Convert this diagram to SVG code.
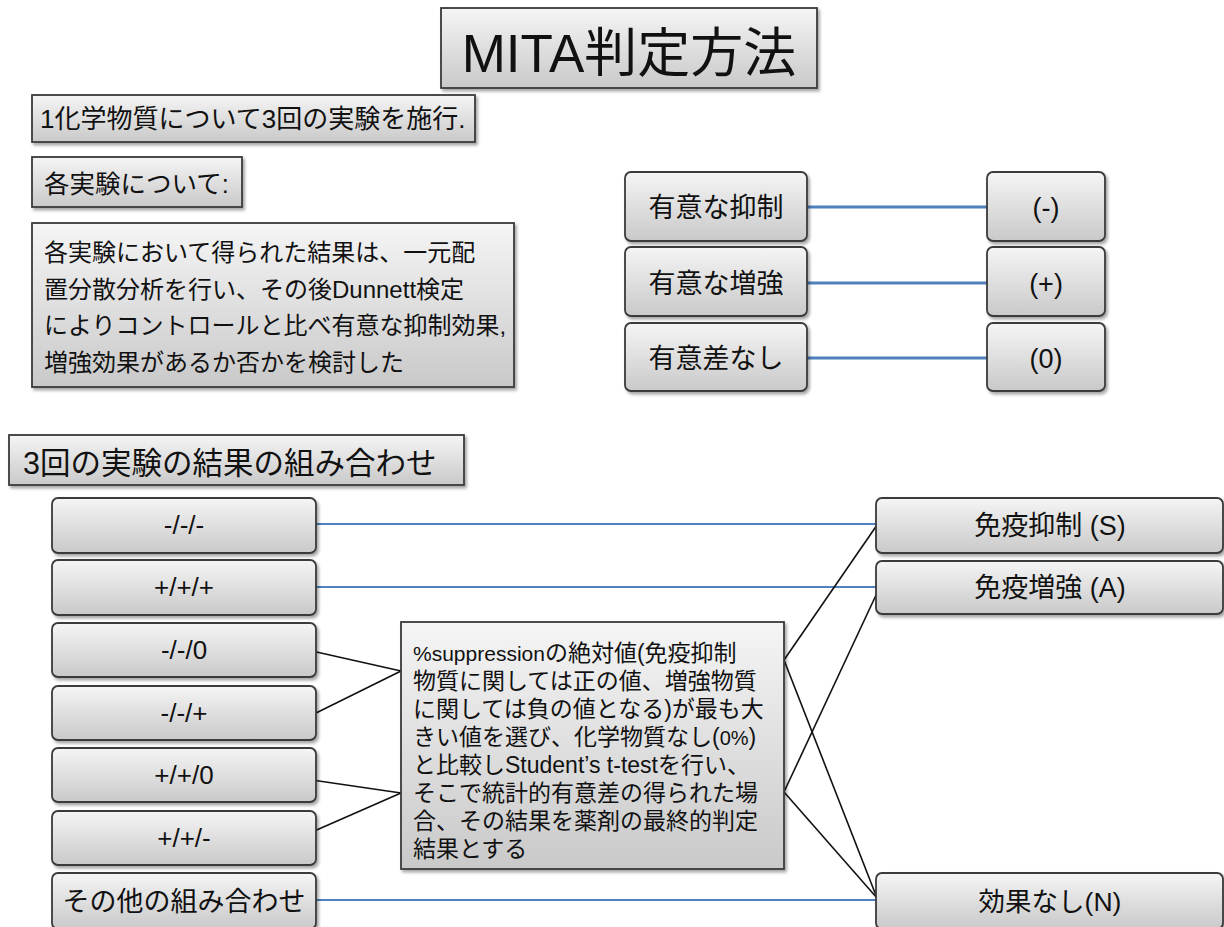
<svg xmlns="http://www.w3.org/2000/svg" width="1224" height="927" viewBox="0 0 1224 927">
<defs>
  <linearGradient id="g" x1="0" y1="0" x2="0" y2="1">
    <stop offset="0" stop-color="#f5f5f5"/>
    <stop offset="1" stop-color="#c9c9c9"/>
  </linearGradient>
  <filter id="sh" x="-5%" y="-10%" width="115%" height="130%">
    <feDropShadow dx="2" dy="2.5" stdDeviation="1.5" flood-color="#000" flood-opacity="0.35"/>
  </filter>
  <style>
    .box{fill:url(#g);stroke:#3a3a3a;stroke-width:1.8;filter:url(#sh)}
    text{font-family:"Liberation Sans","Noto Sans CJK JP",sans-serif;fill:#111}
    .c{text-anchor:middle}
    .blue{stroke:#4f81bd;fill:none}
    .blk{stroke:#111;stroke-width:1.6;fill:none}
  </style>
</defs>
<rect width="1224" height="927" fill="#fff"/>

<g id="connectors">
  <line class="blue" stroke-width="3" x1="807" y1="207" x2="987" y2="207"/>
  <line class="blue" stroke-width="3" x1="807" y1="283" x2="987" y2="283"/>
  <line class="blue" stroke-width="3" x1="807" y1="358" x2="987" y2="358"/>
  <line class="blue" stroke-width="1.8" x1="316" y1="524" x2="876" y2="524"/>
  <line class="blue" stroke-width="1.8" x1="316" y1="587" x2="876" y2="587"/>
  <line class="blue" stroke-width="1.8" x1="316" y1="900" x2="876" y2="900"/>
  <line class="blk" x1="312" y1="651" x2="401" y2="671"/>
  <line class="blk" x1="312" y1="715" x2="401" y2="671"/>
  <line class="blk" x1="312" y1="780" x2="401" y2="793"/>
  <line class="blk" x1="312" y1="832" x2="401" y2="793"/>
  <line class="blk" x1="784" y1="660" x2="877" y2="525"/>
  <line class="blk" x1="784" y1="660" x2="877" y2="898"/>
  <line class="blk" x1="784" y1="792" x2="877" y2="593"/>
  <line class="blk" x1="784" y1="792" x2="877" y2="898"/>
</g>

<g id="title">
  <rect class="box" x="441" y="8" width="376" height="80"/>
  <text class="c" x="629" y="72" font-size="53">MITA判定方法</text>
</g>

<g id="step1">
  <rect class="box" x="32" y="95" width="443" height="47"/>
  <text x="40" y="128" font-size="26">1化学物質について3回の実験を施行.</text>
</g>

<g id="step2">
  <rect class="box" x="32" y="157" width="210" height="50"/>
  <text x="44" y="193" font-size="25.5">各実験について:</text>
</g>

<g id="step3">
  <rect class="box" x="32" y="223" width="482" height="164"/>
  <text x="44" font-size="24">
    <tspan x="44" y="261">各実験において得られた結果は、一元配</tspan>
    <tspan x="44" y="298">置分散分析を行い、その後Dunnett検定</tspan>
    <tspan x="44" y="334">によりコントロールと比べ有意な抑制効果,</tspan>
    <tspan x="44" y="371">増強効果があるか否かを検討した</tspan>
  </text>
</g>

<g id="sig-sup">
  <rect class="box" x="625" y="172" width="182" height="69" rx="6"/>
  <text class="c" x="716" y="217" font-size="27">有意な抑制</text>
</g>
<g id="sig-enh">
  <rect class="box" x="625" y="247" width="182" height="69" rx="6"/>
  <text class="c" x="716" y="293" font-size="27">有意な増強</text>
</g>
<g id="sig-none">
  <rect class="box" x="625" y="323" width="182" height="68" rx="6"/>
  <text class="c" x="716" y="368" font-size="27">有意差なし</text>
</g>
<g id="res-minus">
  <rect class="box" x="987" y="172" width="118" height="69" rx="6"/>
  <text class="c" x="1046" y="217" font-size="27">(-)</text>
</g>
<g id="res-plus">
  <rect class="box" x="987" y="247" width="118" height="69" rx="6"/>
  <text class="c" x="1046" y="293" font-size="27">(+)</text>
</g>
<g id="res-zero">
  <rect class="box" x="987" y="323" width="118" height="68" rx="6"/>
  <text class="c" x="1046" y="368" font-size="27">(0)</text>
</g>

<g id="combo-title">
  <rect class="box" x="9" y="435" width="455" height="50"/>
  <text x="23" y="474" font-size="30.5">3回の実験の結果の組み合わせ</text>
</g>

<g id="c1">
  <rect class="box" x="52" y="498" width="264" height="55" rx="6"/>
  <text class="c" x="184" y="534" font-size="26">-/-/-</text>
</g>
<g id="c2">
  <rect class="box" x="52" y="560" width="264" height="55" rx="6"/>
  <text class="c" x="184" y="596" font-size="26">+/+/+</text>
</g>
<g id="c3">
  <rect class="box" x="52" y="623" width="264" height="54" rx="6"/>
  <text class="c" x="184" y="659" font-size="26">-/-/0</text>
</g>
<g id="c4">
  <rect class="box" x="52" y="686" width="264" height="54" rx="6"/>
  <text class="c" x="184" y="722" font-size="26">-/-/+</text>
</g>
<g id="c5">
  <rect class="box" x="52" y="748" width="264" height="54" rx="6"/>
  <text class="c" x="184" y="784" font-size="26">+/+/0</text>
</g>
<g id="c6">
  <rect class="box" x="52" y="811" width="264" height="54" rx="6"/>
  <text class="c" x="184" y="847" font-size="26">+/+/-</text>
</g>
<g id="c7">
  <rect class="box" x="52" y="873" width="264" height="56" rx="6"/>
  <text class="c" x="184" y="911" font-size="27">その他の組み合わせ</text>
</g>

<g id="middle">
  <rect class="box" x="401" y="622" width="383" height="247"/>
  <text font-size="23">
    <tspan x="413" y="661"><tspan font-size="21">%suppression</tspan>の絶対値(免疫抑制</tspan>
    <tspan x="413" y="689">物質に関しては正の値、増強物質</tspan>
    <tspan x="413" y="717">に関しては負の値となる)が最も大</tspan>
    <tspan x="413" y="745">きい値を選び、化学物質なし(<tspan font-size="20">0%</tspan>)</tspan>
    <tspan x="413" y="773">と比較しStudent’s t-testを行い、</tspan>
    <tspan x="413" y="801">そこで統計的有意差の得られた場</tspan>
    <tspan x="413" y="829">合、その結果を薬剤の最終的判定</tspan>
    <tspan x="413" y="857">結果とする</tspan>
  </text>
</g>

<g id="out-S">
  <rect class="box" x="876" y="498" width="347" height="55" rx="6"/>
  <text class="c" x="1050" y="535" font-size="27">免疫抑制 (S)</text>
</g>
<g id="out-A">
  <rect class="box" x="876" y="561" width="347" height="53" rx="6"/>
  <text class="c" x="1050" y="597" font-size="27">免疫増強 (A)</text>
</g>
<g id="out-N">
  <rect class="box" x="876" y="873" width="347" height="56" rx="6"/>
  <text class="c" x="1050" y="911" font-size="26.5">効果なし(N)</text>
</g>
</svg>
